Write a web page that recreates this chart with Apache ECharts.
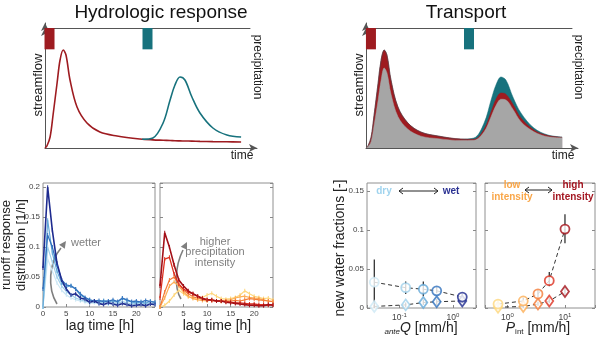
<!DOCTYPE html>
<html>
<head>
<meta charset="utf-8">
<script src="https://cdn.jsdelivr.net/npm/echarts@6/dist/echarts.min.js"></script>
<style>
html, body { margin: 0; padding: 0; background: #fff; }
#chart { width: 600px; height: 339px; }
</style>
</head>
<body>
<div id="chart"></div>
<script>
// conceptual hydrographs (arbitrary time / flow units)
const hydroTime = [0, 0.9, 2.4, 3.8, 5.7, 7.1, 8.6, 9.9, 11.8, 15.1, 19.8, 25.9, 34, 44.8, 50.9, 55.7, 59, 61.3, 63.7, 66, 69.3, 73.1, 79.2, 85.8, 92.5];
const eventOneFlow = [0, 0.016, 0.088, 0.264, 0.52, 0.704, 0.784, 0.744, 0.544, 0.328, 0.2, 0.128, 0.096, 0.072, 0.065, 0.062, 0.06, 0.058, 0.057, 0.056, 0.055, 0.053, 0.051, 0.05, 0.048];
const eventTwoTime = [45.8, 50.9, 55.7, 59, 61.3, 63.7, 66, 69.3, 73.1, 79.2, 85.8, 92.5];
const eventTwoFlow = [0.07, 0.08, 0.2, 0.384, 0.504, 0.568, 0.544, 0.408, 0.28, 0.16, 0.104, 0.088];
const precipTimeLeft = [2.2, 50];
const precipTimeRight = [2.4, 50];
const precipDepth = [0.27, 0.27];

// transport: upper edges of total flow, flow incl. new water of event 1, old water
const totalFlow = [0, 0.016, 0.088, 0.264, 0.52, 0.704, 0.784, 0.744, 0.544, 0.328, 0.2, 0.128, 0.096, 0.072, 0.08, 0.2, 0.384, 0.504, 0.568, 0.544, 0.408, 0.28, 0.16, 0.104, 0.088];
const eventOneTop = [0, 0.016, 0.088, 0.264, 0.52, 0.704, 0.784, 0.744, 0.544, 0.328, 0.2, 0.128, 0.096, 0.072, 0.07, 0.15, 0.29, 0.39, 0.44, 0.43, 0.35, 0.24, 0.145, 0.1, 0.086];
const oldWater = [0, 0.01, 0.05, 0.18, 0.38, 0.54, 0.64, 0.6, 0.43, 0.25, 0.15, 0.095, 0.075, 0.06, 0.062, 0.13, 0.25, 0.34, 0.39, 0.385, 0.31, 0.21, 0.13, 0.09, 0.082];

// runoff response distributions [1/h] vs lag time [h]
const lagTime = [0, 1, 2, 3, 4, 5, 6, 7, 8, 9, 10, 11, 12, 13, 14, 15, 16, 17, 18, 19, 20, 21, 22, 23, 24];
const rrdAnte1 = [0, 0.08, 0.06, 0.04, 0.028, 0.02, 0.015, 0.012, 0.01, 0.008, 0.006, 0.007, 0.005, 0.006, 0.004, 0.005, 0.004, 0.006, 0.004, 0.005, 0.003, 0.005, 0.004, 0.006, 0.004];
const rrdAnte2 = [0, 0.1, 0.075, 0.05, 0.035, 0.026, 0.02, 0.015, 0.012, 0.01, 0.008, 0.009, 0.007, 0.008, 0.006, 0.007, 0.006, 0.009, 0.007, 0.005, 0.006, 0.005, 0.007, 0.006, 0.005];
const rrdAnte3 = [0, 0.145, 0.09, 0.06, 0.04, 0.033, 0.036, 0.03, 0.02, 0.015, 0.012, 0.01, 0.008, 0.011, 0.009, 0.01, 0.008, 0.014, 0.011, 0.008, 0.007, 0.009, 0.006, 0.01, 0.007];
const rrdAnte4 = [0.03, 0.12, 0.1, 0.07, 0.045, 0.037, 0.035, 0.03, 0.022, 0.016, 0.012, 0.01, 0.011, 0.009, 0.01, 0.012, 0.009, 0.015, 0.012, 0.009, 0.01, 0.008, 0.011, 0.009, 0.008];
const rrdAnte5 = [0.065, 0.2, 0.128, 0.073, 0.045, 0.03, 0.02, 0.022, 0.015, 0.013, 0.008, 0.01, 0.006, 0.004, 0.007, 0.005, 0.003, 0.006, 0.004, 0.002, 0.003, 0.004, 0.002, 0.005, 0.004];
const rrdInt1 = [0, 0.003, 0.01, 0.02, 0.028, 0.022, 0.017, 0.015, 0.013, 0.016, 0.02, 0.023, 0.018, 0.014, 0.013, 0.014, 0.016, 0.02, 0.027, 0.022, 0.018, 0.016, 0.014, 0.015, 0.012];
const rrdInt2 = [0, 0.015, 0.035, 0.042, 0.035, 0.025, 0.018, 0.014, 0.012, 0.011, 0.01, 0.012, 0.01, 0.009, 0.011, 0.012, 0.015, 0.017, 0.018, 0.016, 0.015, 0.014, 0.012, 0.01, 0.009];
const rrdInt3 = [0, 0.025, 0.045, 0.05, 0.038, 0.028, 0.022, 0.017, 0.015, 0.013, 0.012, 0.011, 0.01, 0.01, 0.009, 0.01, 0.011, 0.01, 0.012, 0.014, 0.013, 0.012, 0.011, 0.01, 0.009];
const rrdInt4 = [0.015, 0.08, 0.083, 0.055, 0.038, 0.03, 0.025, 0.022, 0.018, 0.015, 0.012, 0.011, 0.01, 0.01, 0.009, 0.008, 0.007, 0.007, 0.006, 0.005, 0.005, 0.004, 0.004, 0.003, 0.004];
const rrdInt5 = [0.035, 0.124, 0.1, 0.07, 0.045, 0.035, 0.027, 0.022, 0.018, 0.014, 0.012, 0.012, 0.01, 0.01, 0.008, 0.007, 0.006, 0.005, 0.004, 0.003, 0.003, 0.002, 0.002, 0.004, 0.003];

// new water fractions [-]
const anteQ = [0.0338, 0.1306, 0.2786, 0.496, 1.49];
const anteCircle = [0.033, 0.026, 0.024, 0.022, 0.014];
const anteCircleLo = [0, 0.018, 0.015, 0.019, 0.009];
const anteCircleHi = [0.062, 0.034, 0.034, 0.027, 0.018];
const anteDiamond = [0.002, 0.004, 0.007, 0.008, 0.009];
const anteDiamondLo = [0, 0.001, 0.004, 0.004, 0.006];
const anteDiamondHi = [0.004, 0.007, 0.011, 0.012, 0.013];
const pInt = [0.684, 1.88, 3.39, 5.33, 10.0];
const pIntCircle = [0.005, 0.009, 0.018, 0.035, 0.101];
const pIntCircleLo = [0.002, 0.006, 0.014, 0.028, 0.083];
const pIntCircleHi = [0.008, 0.013, 0.023, 0.046, 0.12];
const pIntDiamond = [0.001, 0.002, 0.005, 0.009, 0.021];
const pIntDiamondLo = [0, 0, 0.003, 0.006, 0.017];
const pIntDiamondHi = [0.003, 0.004, 0.008, 0.013, 0.026];

const RED = '#9e1b20';
const TEAL = '#17727d';
const blues = ['#cde8f5', '#9fcfea', '#64a9d8', '#3070bd', '#1e2b8f'];
const reds = ['#fed77c', '#fcae55', '#f47c38', '#dc2f1f', '#a30f17'];
const FONT = "'Liberation Sans', Arial, sans-serif";
const BOX = '#909090';

const chart = echarts.init(document.getElementById('chart'), null, { renderer: 'canvas' });

const pairs = (xs, ys) => xs.map((x, i) => [x, ys[i]]);
const none = { show: false };

function arrowAxis(gridIndex, extra) {
  return Object.assign({
    gridIndex, type: 'value', min: 0, max: 100,
    axisLine: { show: true, symbol: ['none', 'arrow'], symbolSize: [6, 8], lineStyle: { color: '#555', width: 1 } },
    axisTick: none, axisLabel: none, splitLine: none
  }, extra);
}
function plainAxis(gridIndex, extra) {
  return Object.assign({
    gridIndex, type: 'value', min: 0, max: 100,
    axisLine: { show: true, onZero: false, lineStyle: { color: '#555', width: 1 } },
    axisTick: none, axisLabel: none, splitLine: none
  }, extra);
}
function boxAxis(gridIndex, extra, labels) {
  return Object.assign({
    gridIndex, type: 'value',
    axisLine: none,
    axisTick: { show: true, inside: true, length: 3, lineStyle: { color: '#888' } },
    axisLabel: labels ? { fontSize: 8, color: '#444', fontFamily: FONT, margin: 3, showMaxLabel: false } : none,
    splitLine: none
  }, extra);
}
function logLabel(v) {
  const e = Math.round(Math.log10(v));
  if (Math.abs(v - Math.pow(10, e)) / v > 1e-6) return '';
  return '{b|10}{s|' + e + '}';
}
const logRich = { b: { fontSize: 8.5, color: '#444', fontFamily: FONT, lineHeight: 12 }, s: { fontSize: 6, color: '#444', fontFamily: FONT, verticalAlign: 'top', lineHeight: 12 } };

function rrdSeries(values, color, axis, width) {
  return {
    type: 'line', xAxisIndex: axis, yAxisIndex: axis, data: pairs(lagTime, values),
    symbol: 'rect', symbolSize: [1, 4], itemStyle: { color }, lineStyle: { color, width }
  };
}
function markers(xs, ys, colors, axis, symbol, size) {
  return {
    type: 'scatter', xAxisIndex: axis, yAxisIndex: axis, symbol, symbolSize: size, z: 4,
    data: xs.map((x, i) => ({ value: [x, ys[i]], itemStyle: { color: '#fff', borderColor: colors[i], borderWidth: 1.8 } }))
  };
}
function dashes(xs, ys, axis) {
  return {
    type: 'line', xAxisIndex: axis, yAxisIndex: axis, data: pairs(xs, ys), symbol: 'none', z: 2,
    lineStyle: { color: '#333', width: 1, type: [4, 3] }
  };
}
function errorBars(xs, lo, hi, axis) {
  return {
    type: 'custom', xAxisIndex: axis, yAxisIndex: axis, z: 3,
    data: xs.map((x, i) => [x, lo[i], hi[i]]),
    renderItem(params, api) {
      const a = api.coord([api.value(0), api.value(1)]);
      const b = api.coord([api.value(0), api.value(2)]);
      return { type: 'line', shape: { x1: a[0], y1: a[1], x2: b[0], y2: b[1] }, style: { stroke: '#222', lineWidth: 1.2 } };
    }
  };
}
function flowArea(values, color) {
  return {
    type: 'line', xAxisIndex: 2, yAxisIndex: 2, data: pairs(hydroTime, values),
    smooth: 0.35, symbol: 'none', lineStyle: { color, width: 0.5 }, areaStyle: { color, opacity: 1, origin: 'start' }
  };
}
function txt(x, y, text, size, color, extra, styleExtra) {
  return Object.assign({
    type: 'text', x, y,
    style: Object.assign({ text, fontSize: size, fontFamily: FONT, fill: color, align: 'center', verticalAlign: 'middle', textAlign: 'center', textVerticalAlign: 'middle' }, styleExtra)
  }, extra);
}
function head(tx, ty, fx, fy, len, half, color) {
  const d = Math.hypot(tx - fx, ty - fy), ux = (tx - fx) / d, uy = (ty - fy) / d;
  const bx = tx - ux * len, by = ty - uy * len;
  return { type: 'polygon', shape: { points: [[tx, ty], [bx - uy * half, by + ux * half], [bx + uy * half, by - ux * half]] }, style: { fill: color } };
}
function curveArrow(p, color) {
  return [
    { type: 'bezierCurve', shape: { x1: p[0], y1: p[1], cpx1: p[2], cpy1: p[3], cpx2: p[4], cpy2: p[5], x2: p[6], y2: p[7] }, style: { stroke: color, lineWidth: 1.6, fill: null } },
    head(p[8], p[9], p[6], p[7], 7, 3.5, color)
  ];
}
function doubleArrow(x1, x2, y) {
  return [
    { type: 'line', shape: { x1, y1: y, x2, y2: y }, style: { stroke: '#222', lineWidth: 1 } },
    { type: 'polyline', shape: { points: [[x1 + 4, y - 3], [x1, y], [x1 + 4, y + 3]] }, style: { stroke: '#222', lineWidth: 1, fill: null } },
    { type: 'polyline', shape: { points: [[x2 - 4, y - 3], [x2, y], [x2 - 4, y + 3]] }, style: { stroke: '#222', lineWidth: 1, fill: null } }
  ];
}
const bold = { fontWeight: 'bold', lineHeight: 12 };

const option = {
  animation: false,
  backgroundColor: '#fff',
  grid: [
    { left: 45, top: 23, width: 212, height: 125 },
    { left: 45, top: 28, width: 205, height: 79 },
    { left: 366, top: 23, width: 212, height: 125 },
    { left: 366, top: 28, width: 206, height: 79 },
    { left: 43, top: 183, width: 112, height: 124, show: true, borderColor: BOX, borderWidth: 1 },
    { left: 160, top: 183, width: 113, height: 124, show: true, borderColor: BOX, borderWidth: 1 },
    { left: 367, top: 183, width: 109, height: 125, show: true, borderColor: BOX, borderWidth: 1 },
    { left: 485, top: 183, width: 110, height: 125, show: true, borderColor: BOX, borderWidth: 1 }
  ],
  xAxis: [
    arrowAxis(0),
    plainAxis(1, { position: 'top' }),
    arrowAxis(2),
    plainAxis(3, { position: 'top' }),
    boxAxis(4, { min: 0, max: 24, interval: 5 }, true),
    boxAxis(5, { min: 0, max: 24, interval: 5 }, true),
    boxAxis(6, { type: 'log', logBase: 10, min: 0.0247, max: 2.69, axisLabel: { formatter: logLabel, rich: logRich, margin: 4 } }),
    boxAxis(7, { type: 'log', logBase: 10, min: 0.406, max: 33.3, axisLabel: { formatter: logLabel, rich: logRich, margin: 4 } })
  ],
  yAxis: [
    arrowAxis(0, { max: 1 }),
    arrowAxis(1, { max: 1, position: 'right', inverse: true }),
    arrowAxis(2, { max: 1 }),
    arrowAxis(3, { max: 1, position: 'right', inverse: true }),
    boxAxis(4, { min: 0, max: 0.207, interval: 0.05 }, true),
    boxAxis(5, { min: 0, max: 0.207, interval: 0.05 }, false),
    boxAxis(6, { min: 0, max: 0.16, interval: 0.05 }, true),
    boxAxis(7, { min: 0, max: 0.16, interval: 0.05 }, false),
    boxAxis(4, { min: 0, max: 0.207, interval: 0.05, position: 'right' }, false),
    boxAxis(5, { min: 0, max: 0.207, interval: 0.05, position: 'right' }, false),
    boxAxis(6, { min: 0, max: 0.16, interval: 0.05, position: 'right' }, false),
    boxAxis(7, { min: 0, max: 0.16, interval: 0.05, position: 'right' }, false)
  ],
  series: [
    // hydrologic response
    { type: 'line', xAxisIndex: 0, yAxisIndex: 0, data: pairs(hydroTime, eventOneFlow), smooth: 0.35, symbol: 'none', lineStyle: { color: RED, width: 1.6 } },
    { type: 'line', xAxisIndex: 0, yAxisIndex: 0, data: pairs(eventTwoTime, eventTwoFlow), smooth: 0.35, symbol: 'none', lineStyle: { color: TEAL, width: 1.6 } },
    { type: 'bar', xAxisIndex: 1, yAxisIndex: 1, barWidth: 10, data: precipTimeLeft.map((t, i) => ({ value: [t, precipDepth[i]], itemStyle: { color: i ? TEAL : RED } })) },
    // transport
    flowArea(totalFlow, TEAL),
    flowArea(eventOneTop, RED),
    flowArea(oldWater, '#a6a6a6'),
    { type: 'bar', xAxisIndex: 3, yAxisIndex: 3, barWidth: 10, data: precipTimeRight.map((t, i) => ({ value: [t, precipDepth[i]], itemStyle: { color: i ? TEAL : RED } })) },
    // runoff response distributions
    rrdSeries(rrdAnte1, blues[0], 4, 1.2),
    rrdSeries(rrdAnte2, blues[1], 4, 1.2),
    rrdSeries(rrdAnte3, blues[2], 4, 1.2),
    rrdSeries(rrdAnte4, blues[3], 4, 1.3),
    rrdSeries(rrdAnte5, blues[4], 4, 1.6),
    rrdSeries(rrdInt1, reds[0], 5, 1.2),
    rrdSeries(rrdInt2, reds[1], 5, 1.2),
    rrdSeries(rrdInt3, reds[2], 5, 1.2),
    rrdSeries(rrdInt4, reds[3], 5, 1.3),
    rrdSeries(rrdInt5, reds[4], 5, 1.6),
    // new water fractions
    dashes(anteQ, anteCircle, 6),
    dashes(anteQ, anteDiamond, 6),
    errorBars(anteQ, anteCircleLo, anteCircleHi, 6),
    errorBars(anteQ, anteDiamondLo, anteDiamondHi, 6),
    markers(anteQ, anteDiamond, blues, 6, 'diamond', [8, 11]),
    markers(anteQ, anteCircle, blues, 6, 'circle', 9),
    dashes(pInt, pIntCircle, 7),
    dashes(pInt, pIntDiamond, 7),
    errorBars(pInt, pIntCircleLo, pIntCircleHi, 7),
    errorBars(pInt, pIntDiamondLo, pIntDiamondHi, 7),
    markers(pInt, pIntDiamond, reds, 7, 'diamond', [8, 11]),
    markers(pInt, pIntCircle, reds, 7, 'circle', 9)
  ],
  graphic: {
    elements: [
      txt(161, 13, 'Hydrologic response', 19, '#111'),
      txt(466, 13, 'Transport', 19, '#111'),
      txt(38, 85, 'streamflow', 13, '#222', { rotation: Math.PI / 2 }),
      txt(359, 85, 'streamflow', 13, '#222', { rotation: Math.PI / 2 }),
      txt(257, 67, 'precipitation', 12, '#222', { rotation: -Math.PI / 2 }),
      txt(578, 67, 'precipitation', 12, '#222', { rotation: -Math.PI / 2 }),
      txt(242, 156, 'time', 12, '#222'),
      txt(563, 156, 'time', 12, '#222'),
      txt(14, 245, 'runoff response\ndistribution [1/h]', 13, '#222', { rotation: Math.PI / 2 }, { lineHeight: 15 }),
      txt(100, 326, 'lag time [h]', 14, '#222'),
      txt(217, 326, 'lag time [h]', 14, '#222'),
      txt(86, 243, 'wetter', 11, '#7f7f7f'),
      txt(215, 252, 'higher\nprecipitation\nintensity', 11, '#7f7f7f', {}, { lineHeight: 10.5 }),
      ...curveArrow([57, 304, 47, 288, 49, 262, 61, 248, 66, 241], '#7f7f7f'),
      ...curveArrow([181, 299, 174, 288, 175, 266, 183, 250, 187, 242], '#7f7f7f'),
      txt(340, 248, 'new water fractions [-]', 14, '#222', { rotation: Math.PI / 2 }),
      txt(384, 191, 'dry', 10, '#9fd3ee', {}, bold),
      txt(451, 191, 'wet', 10, '#2a3192', {}, bold),
      ...doubleArrow(399, 438, 191),
      txt(512, 191, 'low\nintensity', 10, '#f9a648', {}, bold),
      txt(573, 191, 'high\nintensity', 10, '#a31621', {}, bold),
      ...doubleArrow(525, 552, 190),
      txt(421, 328, '{a|ante}{q|Q} [mm/h]', 14, '#222', {}, {
        rich: { a: { fontSize: 8, fontStyle: 'italic', fontFamily: FONT, fill: '#222', verticalAlign: 'bottom', lineHeight: 16 }, q: { fontSize: 14, fontStyle: 'italic', fontFamily: FONT, fill: '#222', lineHeight: 16 } } }),
      txt(538, 328, '{p|P}{i|int} [mm/h]', 14, '#222', {}, {
        rich: { p: { fontSize: 14, fontStyle: 'italic', fontFamily: FONT, fill: '#222', lineHeight: 16 }, i: { fontSize: 8, fontFamily: FONT, fill: '#222', verticalAlign: 'bottom', lineHeight: 16 } } })
    ]
  }
};

chart.setOption(option);
</script>
</body>
</html>
